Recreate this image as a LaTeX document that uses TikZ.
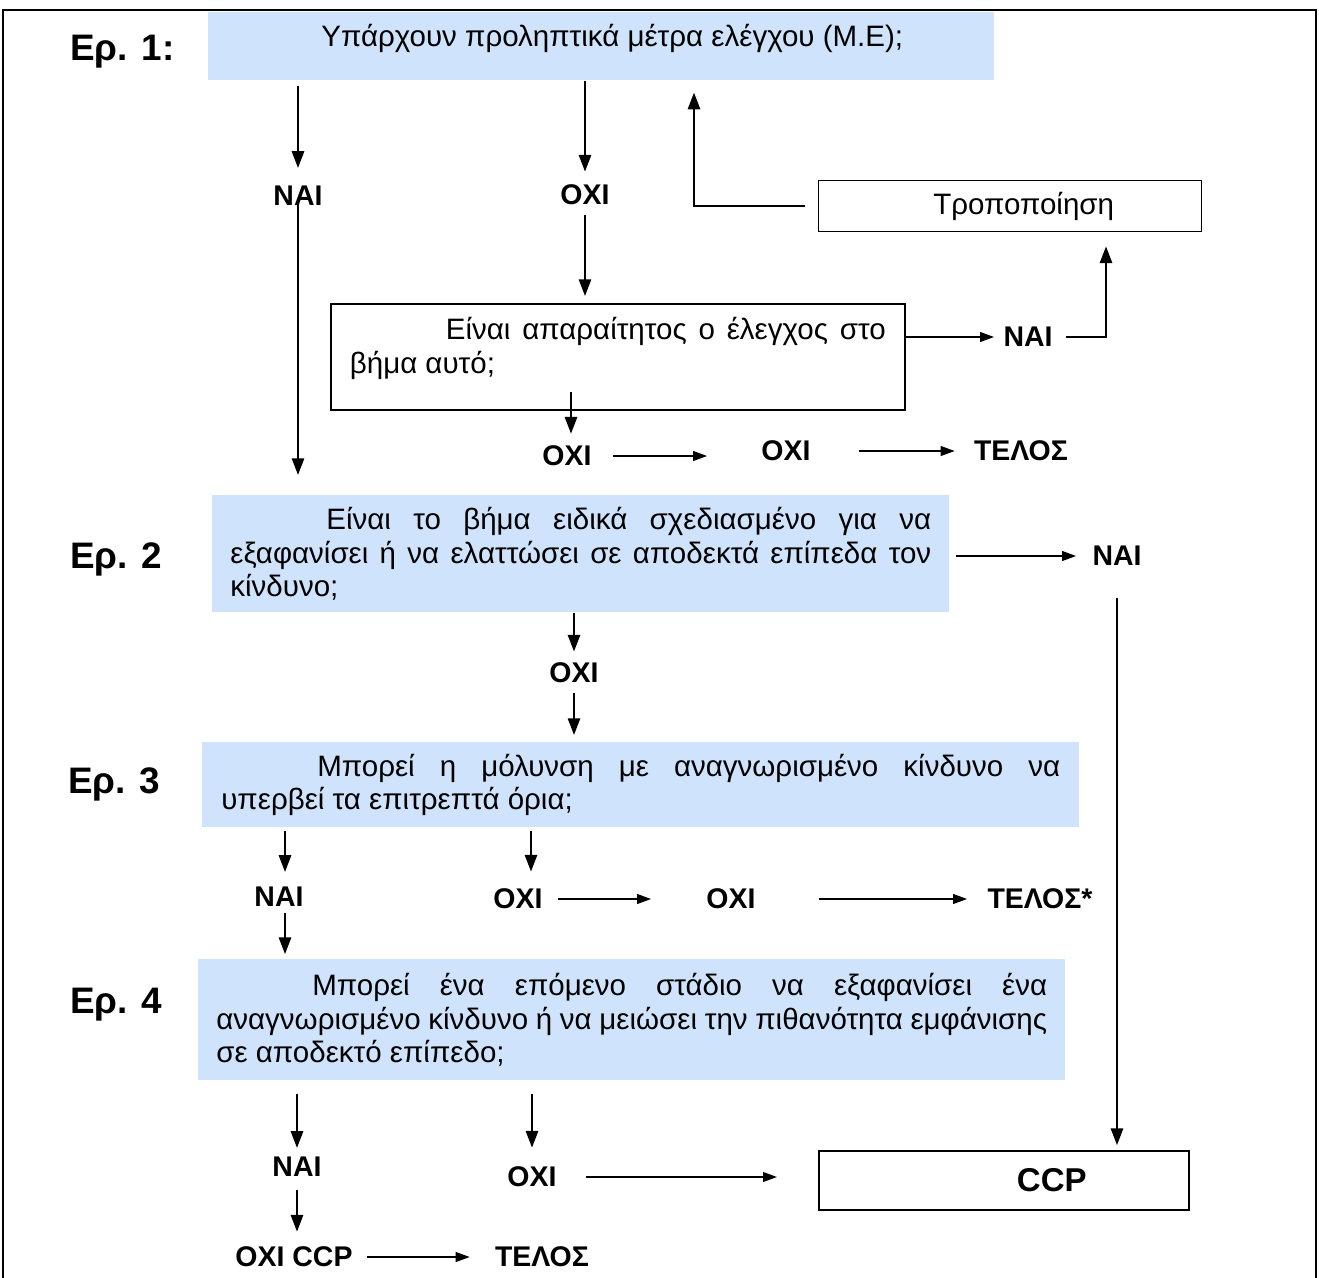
\documentclass[tikz,border=0pt]{standalone}
\usepackage{fontspec}
\setmainfont{Liberation Sans}
\usetikzlibrary{arrows.meta,positioning}
\definecolor{qblue}{RGB}{207,228,252}
\newcommand{\ind}{\hspace*{1.92cm}}

\begin{document}
\begin{tikzpicture}[
  x=0.02cm, y=-0.02cm,
  every node/.style={font=\fontsize{16.8}{19}\selectfont, inner sep=0pt},
  lbl/.style={font=\fontsize{16.2}{19}\selectfont\bfseries},
  eq/.style={font=\fontsize{21}{25}\selectfont\bfseries, anchor=base west},
  qbox/.style={fill=qblue, anchor=north west},
  wbox/.style={draw, line width=1pt, anchor=north west},
  varr/.style={-{Triangle[length=9.5pt,width=7pt]}, line width=1.1pt},
  harr/.style={-{Triangle[length=8pt,width=5.5pt]}, line width=1.1pt}
]
  \useasboundingbox (0,0) rectangle (1319,1278);
  % frame
  \draw[line width=0.6pt] (3,1278) -- (3,10) -- (1316,10) -- (1316,1278);

  % questions
  \node[eq] (e1) at (70,60) {Ερ. 1:};
  \node[eq] (e2) at (70,568) {Ερ. 2};
  \node[eq] (e3) at (68,793) {Ερ. 3};
  \node[eq] (e4) at (70,1013) {Ερ. 4};

  \node[qbox, minimum width=15.72cm, text height=0.68cm, text depth=0.68cm] (q1) at (208,12)
    {\hspace*{0.44cm}Υπάρχουν προληπτικά μέτρα ελέγχου (Μ.Ε);};
  \node[qbox, align=justify, text width=14.02cm, inner xsep=0.36cm, minimum height=2.34cm] (q2) at (212,495)
    {\ind Είναι το βήμα ειδικά σχεδιασμένο για να\linebreak
     εξαφανίσει ή να ελαττώσει σε αποδεκτά επίπεδα τον\linebreak κίνδυνο;};
  \node[qbox, align=justify, text width=16.78cm, inner xsep=0.38cm, minimum height=1.70cm] (q3) at (202,742)
    {\ind Μπορεί η μόλυνση με αναγνωρισμένο κίνδυνο να\linebreak
     υπερβεί τα επιτρεπτά όρια;};
  \node[qbox, align=justify, text width=16.62cm, inner xsep=0.36cm, minimum height=2.42cm] (q4) at (198,959)
    {\ind Μπορεί ένα επόμενο στάδιο να εξαφανίσει ένα\linebreak
     αναγνωρισμένο κίνδυνο ή να μειώσει την πιθανότητα εμφάνισης\linebreak
     σε αποδεκτό επίπεδο;};

  % boxes
  \node[wbox, align=justify, text width=10.72cm, inner xsep=0.38cm, text height=0.72cm, text depth=1.40cm] (need) at (330,303)
    {\ind Είναι απαραίτητος ο έλεγχος στο\linebreak βήμα αυτό;};
  \node[wbox, line width=0.8pt, minimum width=7.66cm, minimum height=1.02cm] (mod) at (818,180)
    {\hspace*{0.54cm}Τροποποίηση};
  \node[wbox, font=\fontsize{18.8}{22}\selectfont\bfseries, minimum width=7.40cm, minimum height=1.18cm] (ccp) at (818,1150)
    {\hspace*{1.92cm}CCP};

  % answers
  \node[lbl] (nai1) at (298,196) {ΝΑΙ};
  \node[lbl] (oxi1) at (585,195) {ΟΧΙ};
  \node[lbl] (naiR) at (1028,337) {ΝΑΙ};
  \node[lbl] (oxi2) at (567,456) {ΟΧΙ};
  \node[lbl] (oxi3) at (786,451) {ΟΧΙ};
  \node[lbl] (end1) at (1021,451) {ΤΕΛΟΣ};
  \node[lbl] (naiQ2) at (1117,556) {ΝΑΙ};
  \node[lbl] (oxi4) at (574,673) {ΟΧΙ};
  \node[lbl] (nai5) at (279,897) {ΝΑΙ};
  \node[lbl] (oxi5) at (518,899) {ΟΧΙ};
  \node[lbl] (oxi6) at (731,899) {ΟΧΙ};
  \node[lbl] (end2) at (1040,899) {ΤΕΛΟΣ*};
  \node[lbl] (nai6) at (297,1167) {ΝΑΙ};
  \node[lbl] (oxi7) at (532,1177) {ΟΧΙ};
  \node[lbl] (noccp) at (294,1257) {ΟΧΙ CCP};
  \node[lbl] (end3) at (542,1257) {ΤΕΛΟΣ};

  \coordinate (needout) at (571,392);

  % arrows
  \draw[varr, shorten <=2.8pt, shorten >=10.2pt] (q1.south -| nai1) -- (nai1.north);
  \draw[varr, shorten <=2.3pt, shorten >=11.4pt] (nai1.center) -- (nai1 |- q2.north);
  \draw[varr, shorten >=7.4pt] (q1.south -| oxi1) -- (oxi1.north);
  \draw[varr, shorten <=5.7pt, shorten >=4pt] (oxi1.south) -- (oxi1 |- need.north);
  \draw[varr, shorten <=7.4pt, shorten >=6.8pt] (mod.west) -| (q1.south -| 694,0);
  \draw[harr, shorten >=5.1pt] (need.east |- naiR) -- (naiR.west);
  \draw[varr, shorten <=7.4pt, shorten >=8pt] (naiR.east) -| (mod.south -| 1106,0);
  \draw[varr, shorten >=6.8pt] (needout) -- (needout |- oxi2.north);
  \draw[harr, shorten <=12pt, shorten >=30.7pt] (oxi2.east) -- (oxi2.east -| oxi3.west);
  \draw[harr, shorten <=27.3pt, shorten >=10.8pt] (oxi3.east) -- (oxi3.east -| end1.west);
  \draw[harr, shorten <=3.4pt, shorten >=9.1pt] (q2.east |- naiQ2) -- (naiQ2.west);
  \draw[varr, shorten <=18.2pt, shorten >=2.8pt] (naiQ2.south) -- (naiQ2 |- ccp.north);
  \draw[varr, shorten >=6.3pt] (q2.south -| oxi4) -- (oxi4.north);
  \draw[varr, shorten <=5.7pt, shorten >=4pt] (oxi4.south) -- (oxi4 |- q3.north);
  \draw[varr, shorten <=1.7pt, shorten >=8.5pt] (q3.south -| 285,0) -- (nai5.north -| 285,0);
  \draw[varr, shorten <=3.4pt, shorten >=2.8pt] (nai5.south -| 285,0) -- (q4.north -| 285,0);
  \draw[varr, shorten <=1.7pt, shorten >=9.7pt] (q3.south -| 531,0) -- (oxi5.north -| 531,0);
  \draw[harr, shorten <=8.5pt, shorten >=31.3pt] (oxi5.east) -- (oxi5.east -| oxi6.west);
  \draw[harr, shorten <=35.8pt, shorten >=11.4pt] (oxi6.east) -- (oxi6.east -| end2.west);
  \draw[varr, shorten <=7.4pt, shorten >=5.1pt] (q4.south -| nai6) -- (nai6.north);
  \draw[varr, shorten <=7.4pt, shorten >=8.5pt] (nai6.south) -- (nai6 |- noccp.north);
  \draw[harr, shorten <=8pt, shorten >=14.2pt] (noccp.east) -- (noccp.east -| end3.west);
  \draw[varr, shorten <=7.4pt, shorten >=10.8pt] (q4.south -| oxi7) -- (oxi7.north);
  \draw[harr, shorten <=16.5pt, shorten >=23.3pt] (oxi7.east) -- (oxi7.east -| ccp.west);
\end{tikzpicture}
\end{document}
